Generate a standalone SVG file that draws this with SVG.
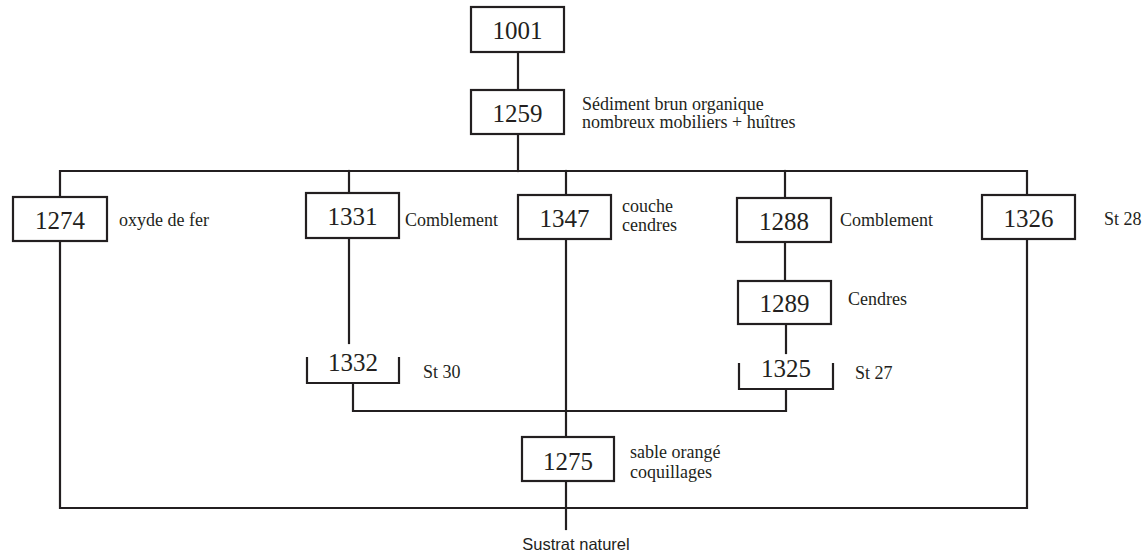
<svg xmlns="http://www.w3.org/2000/svg" width="1145" height="558" viewBox="0 0 1145 558">
<style>
  .box { fill: #ffffff; stroke: #231f20; stroke-width: 2.2; }
  .ln { fill: none; stroke: #231f20; stroke-width: 2.2; stroke-linecap: square; }
  .num { font-family: "Liberation Serif", serif; font-size: 25px; fill: #231f20; text-anchor: middle; }
  .lbl { font-family: "Liberation Serif", serif; font-size: 18px; fill: #231f20; }
  .sans { font-family: "Liberation Sans", sans-serif; font-size: 16.5px; fill: #231f20; text-anchor: middle; }
</style>
<rect width="1145" height="558" fill="#ffffff"/>
<g id="connectors">
  <path class="ln" d="M518 52 V90"/>
  <path class="ln" d="M518 134 V171"/>
  <path class="ln" d="M60 197 V171 H1027 V195"/>
  <path class="ln" d="M349 171 V193"/>
  <path class="ln" d="M566 171 V195"/>
  <path class="ln" d="M785 171 V198"/>
  <path class="ln" d="M60 241 V508 H1027 V239"/>
  <path class="ln" d="M349 238 V343"/>
  <path class="ln" d="M353 383 V411 H786 V389"/>
  <path class="ln" d="M566 239 V437"/>
  <path class="ln" d="M785 242 V281"/>
  <path class="ln" d="M786 324 V353"/>
  <path class="ln" d="M566 481 V529"/>
</g>
<g id="n1001"><rect class="box" x="471" y="7" width="93" height="45"/><text class="num" x="517.5" y="39">1001</text></g>
<g id="n1259"><rect class="box" x="471" y="90" width="93" height="44"/><text class="num" x="517.5" y="122">1259</text>
  <text class="lbl" x="582" y="110">Sédiment brun organique</text><text class="lbl" x="582" y="128">nombreux mobiliers + huîtres</text></g>
<g id="n1274"><rect class="box" x="13" y="197" width="94" height="44"/><text class="num" x="60" y="229">1274</text>
  <text class="lbl" x="119" y="226">oxyde de fer</text></g>
<g id="n1331"><rect class="box" x="306" y="193" width="93" height="45"/><text class="num" x="352.5" y="225">1331</text>
  <text class="lbl" x="405" y="226">Comblement</text></g>
<g id="n1347"><rect class="box" x="518" y="195" width="93" height="44"/><text class="num" x="564.5" y="227">1347</text>
  <text class="lbl" x="622" y="212">couche</text><text class="lbl" x="622" y="231">cendres</text></g>
<g id="n1288"><rect class="box" x="737" y="198" width="94" height="44"/><text class="num" x="784" y="230">1288</text>
  <text class="lbl" x="840" y="226">Comblement</text></g>
<g id="n1326"><rect class="box" x="982" y="195" width="93" height="44"/><text class="num" x="1028.5" y="227">1326</text>
  <text class="lbl" x="1104" y="225">St 28</text></g>
<g id="n1289"><rect class="box" x="738" y="281" width="93" height="43"/><text class="num" x="784.5" y="312">1289</text>
  <text class="lbl" x="848" y="305">Cendres</text></g>
<g id="n1332"><path class="ln" d="M307 358 V383 H399 V358"/><text class="num" x="353" y="371">1332</text>
  <text class="lbl" x="423" y="378">St 30</text></g>
<g id="n1325"><path class="ln" d="M739 364 V389 H833 V364"/><text class="num" x="786" y="377">1325</text>
  <text class="lbl" x="855" y="379">St 27</text></g>
<g id="n1275"><rect class="box" x="522" y="437" width="92" height="44"/><text class="num" x="568" y="470">1275</text>
  <text class="lbl" x="630" y="458">sable orangé</text><text class="lbl" x="630" y="478">coquillages</text></g>
<g id="sustrat"><text class="sans" x="576" y="550">Sustrat naturel</text></g>
</svg>
